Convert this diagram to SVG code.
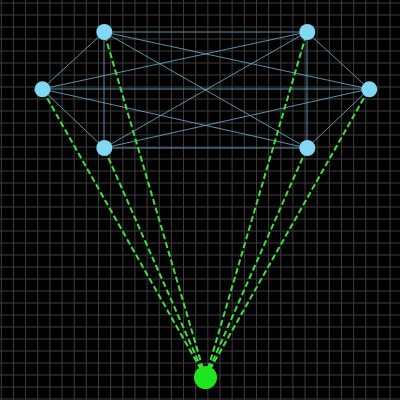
<svg xmlns="http://www.w3.org/2000/svg" width="400" height="400" viewBox="0 0 400 400">
<style>
.grid{stroke:#3e3e3e;stroke-width:1;fill:none}
.edge{stroke:#6aa9c2;stroke-width:1;stroke-opacity:0.85}
.dash{stroke:#3fe03f;stroke-width:2;stroke-dasharray:6,3;fill:none}
.node{fill:#80d8f2}
.hub{fill:#1ee61e}
</style>
<rect width="400" height="400" fill="#000"/>
<g id="grid">
<path class="grid" d="M1.3 0V400M13.45 0V400M25.6 0V400M37.75 0V400M49.9 0V400M62.05 0V400M74.2 0V400M86.35 0V400M98.5 0V400M110.65 0V400M122.8 0V400M134.95 0V400M147.1 0V400M159.25 0V400M171.4 0V400M183.55 0V400M195.7 0V400M207.85 0V400M220 0V400M232.15 0V400M244.3 0V400M256.45 0V400M268.6 0V400M280.75 0V400M292.9 0V400M305.05 0V400M317.2 0V400M329.35 0V400M341.5 0V400M353.65 0V400M365.8 0V400M377.95 0V400M390.1 0V400"/>
<path class="grid" d="M0 3H400M0 15H400M0 27H400M0 39H400M0 51H400M0 63H400M0 75H400M0 87H400M0 99H400M0 111H400M0 123H400M0 135H400M0 147H400M0 159H400M0 171H400M0 183H400M0 195H400M0 207H400M0 219H400M0 231H400M0 243H400M0 255H400M0 267H400M0 279H400M0 291H400M0 303H400M0 315H400M0 327H400M0 339H400M0 351H400M0 363H400M0 375H400M0 387H400M0 399H400"/>
</g>
<g id="connectors">
<line class="edge" x1="104" y1="32" x2="307" y2="32"/>
<line class="edge" x1="104" y1="32" x2="42" y2="89"/>
<line class="edge" x1="104" y1="32" x2="369" y2="89"/>
<line class="edge" x1="104" y1="32" x2="104" y2="148"/>
<line class="edge" x1="104" y1="32" x2="307" y2="148"/>
<line class="edge" x1="307" y1="32" x2="42" y2="89"/>
<line class="edge" x1="307" y1="32" x2="369" y2="89"/>
<line class="edge" x1="307" y1="32" x2="104" y2="148"/>
<line class="edge" x1="307" y1="32" x2="307" y2="148"/>
<line class="edge" x1="42" y1="89" x2="369" y2="89"/>
<line class="edge" x1="42" y1="89" x2="104" y2="148"/>
<line class="edge" x1="42" y1="89" x2="307" y2="148"/>
<line class="edge" x1="369" y1="89" x2="104" y2="148"/>
<line class="edge" x1="369" y1="89" x2="307" y2="148"/>
<line class="edge" x1="104" y1="148" x2="307" y2="148"/>
<line class="dash" x1="205.5" y1="377.5" x2="104" y2="32"/>
<line class="dash" x1="205.5" y1="377.5" x2="307" y2="32"/>
<line class="dash" x1="205.5" y1="377.5" x2="42" y2="89"/>
<line class="dash" x1="205.5" y1="377.5" x2="369" y2="89"/>
<line class="dash" x1="205.5" y1="377.5" x2="104" y2="148"/>
<line class="dash" x1="205.5" y1="377.5" x2="307" y2="148"/>
</g>
<g id="n1"><circle class="node" cx="104.3" cy="32" r="8"/></g>
<g id="n2"><circle class="node" cx="307.3" cy="32" r="8"/></g>
<g id="n3"><circle class="node" cx="42.5" cy="89.3" r="8"/></g>
<g id="n4"><circle class="node" cx="369.3" cy="89.3" r="8"/></g>
<g id="n5"><circle class="node" cx="104.3" cy="148" r="8"/></g>
<g id="n6"><circle class="node" cx="307.3" cy="148" r="8"/></g>
<g id="hub"><circle class="hub" cx="205.5" cy="377.5" r="11.5"/></g>
</svg>
